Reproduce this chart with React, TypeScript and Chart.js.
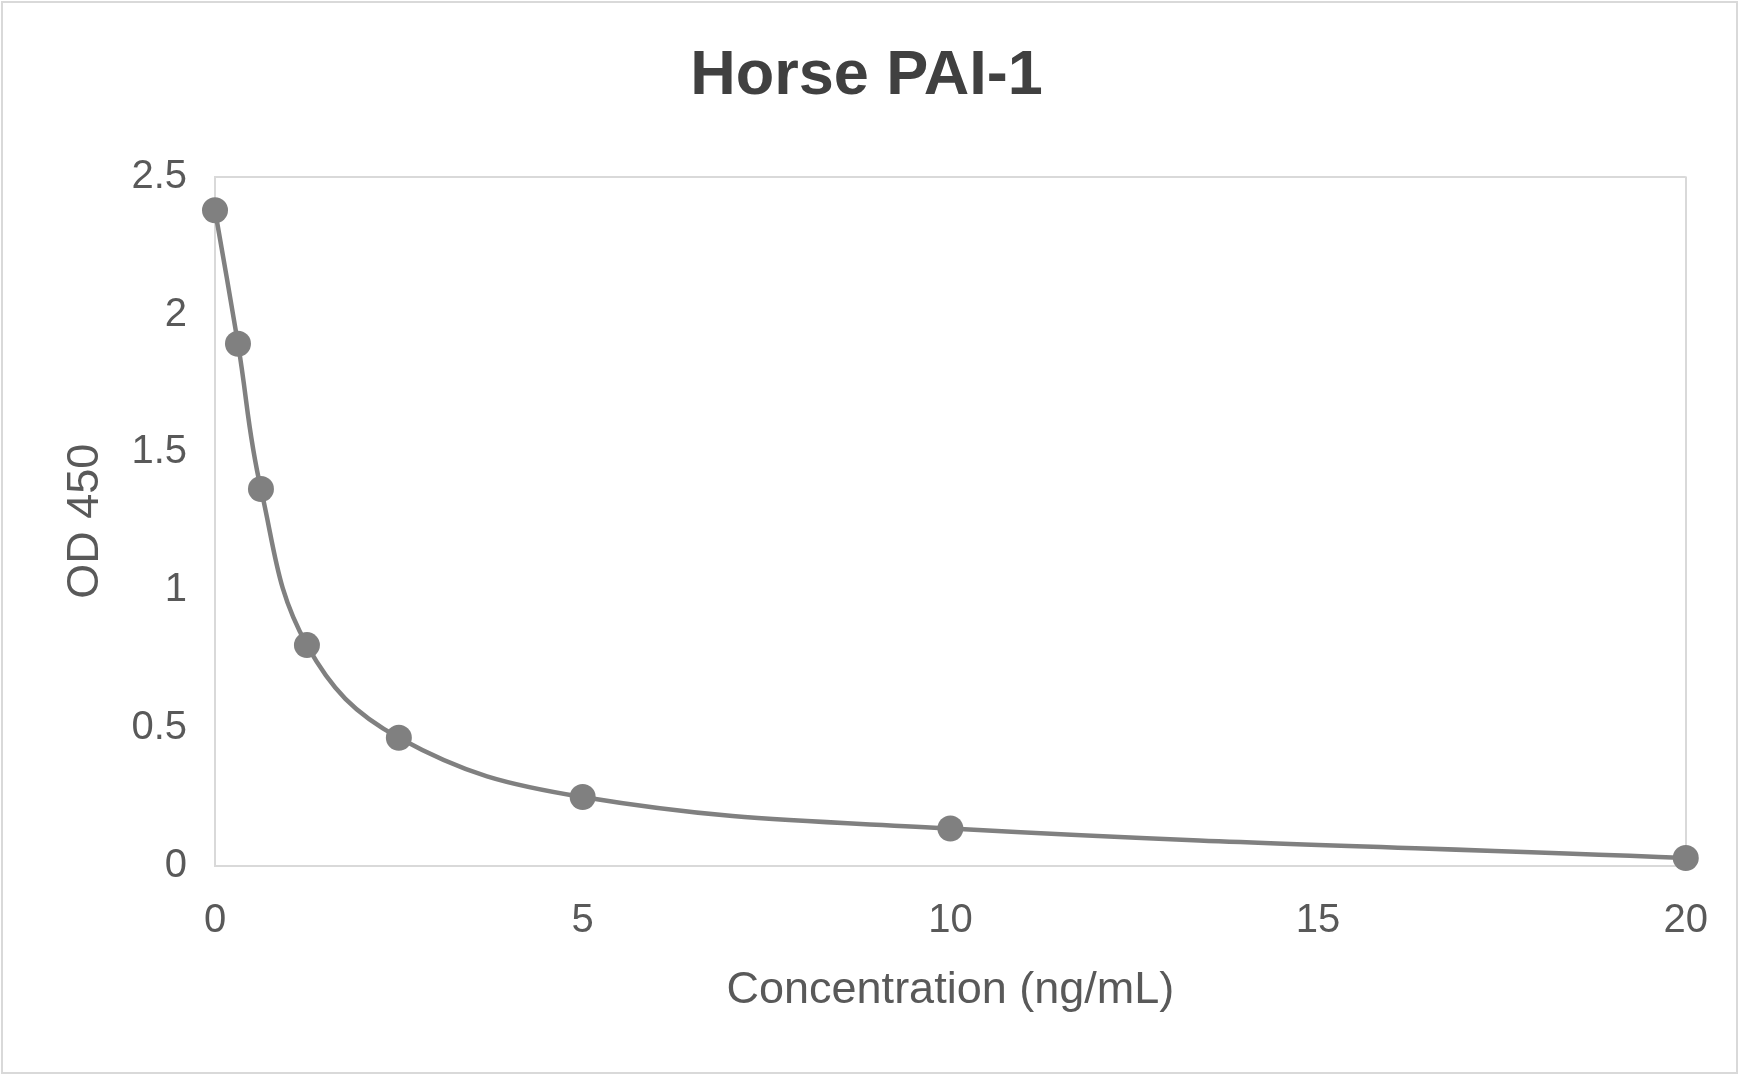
import React, { useEffect, useRef } from "react";
import { Chart, registerables } from "chart.js";

Chart.register(...registerables);

const concentrations = [0, 0.3125, 0.625, 1.25, 2.5, 5, 10, 20];
const odValues = [2.378, 1.894, 1.367, 0.801, 0.465, 0.25, 0.136, 0.029];
const chartTitle = "Horse PAI-1";
const xTitle = "Concentration (ng/mL)";
const yTitle = "OD 450";

const W = 1739;
const H = 1075;
const FONT = "'Liberation Sans', Arial, sans-serif";

const outerBorder = {
  id: "outerBorder",
  afterDraw(chart: any) {
    const { ctx } = chart;
    ctx.save();
    ctx.strokeStyle = "#d9d9d9";
    ctx.lineWidth = 2;
    ctx.strokeRect(2, 2, chart.width - 4, chart.height - 4);
    ctx.restore();
  },
  beforeDraw(chart: any) {
    const { ctx } = chart;
    ctx.save();
    ctx.fillStyle = "#ffffff";
    ctx.fillRect(0, 0, chart.width, chart.height);
    ctx.restore();
  },
};

export default function App() {
  const ref = useRef<HTMLCanvasElement | null>(null);

  useEffect(() => {
    if (!ref.current) return;
    const points = concentrations.map((x, i) => ({ x, y: odValues[i] }));
    const chart = new Chart(ref.current, {
      type: "scatter",
      data: {
        datasets: [
          {
            data: points,
            showLine: true,
            borderColor: "#808080",
            backgroundColor: "#808080",
            borderWidth: 4.5,
            pointRadius: 13,
            pointHoverRadius: 13,
            pointBorderWidth: 0,
            pointBackgroundColor: "#808080",
            tension: 0.4,
            clip: false,
          } as any,
        ],
      },
      options: {
        animation: false,
        responsive: false,
        devicePixelRatio: 1,
        events: [],
        layout: { padding: { left: 46, right: 52, top: 0, bottom: 0 } },
        plugins: {
          legend: { display: false },
          tooltip: { enabled: false },
          title: {
            display: true,
            text: chartTitle,
            color: "#404040",
            font: { family: FONT, size: 63, weight: "bold", lineHeight: 1.2 },
            padding: { top: 39, bottom: 62 },
          },
        },
        scales: {
          x: {
            type: "linear",
            min: 0,
            max: 20,
            afterFit(scale: any) {
              scale.height = 209;
            },
            ticks: {
              stepSize: 5,
              color: "#595959",
              padding: 31,
              font: { family: FONT, size: 40, lineHeight: 1.2 },
              maxRotation: 0,
            },
            grid: {
              drawTicks: false,
              lineWidth: 2,
              color: (c: any) => (c.tick && c.tick.value === 20 ? "#d9d9d9" : "rgba(0,0,0,0)"),
            },
            border: { display: true, color: "#d9d9d9", width: 2 },
            title: {
              display: true,
              text: xTitle,
              color: "#595959",
              font: { family: FONT, size: 45, lineHeight: 1.2 },
              padding: { top: 0, bottom: 57 },
            },
          },
          y: {
            type: "linear",
            min: 0,
            max: 2.5,
            afterFit(scale: any) {
              scale.width = 169;
            },
            ticks: {
              stepSize: 0.5,
              color: "#595959",
              padding: 28,
              font: { family: FONT, size: 40, lineHeight: 1.2 },
              callback: (v: any) => String(Number(v)),
            },
            grid: {
              drawTicks: false,
              lineWidth: 2,
              color: (c: any) => (c.tick && c.tick.value === 2.5 ? "#d9d9d9" : "rgba(0,0,0,0)"),
            },
            border: { display: true, color: "#d9d9d9", width: 2 },
            title: {
              display: true,
              text: yTitle,
              color: "#595959",
              font: { family: FONT, size: 45, lineHeight: 1.2 },
              padding: { top: 13, bottom: 0 },
            },
          },
        },
      } as any,
      plugins: [outerBorder],
    });
    return () => chart.destroy();
  }, []);

  return (
    <div style={{ position: "fixed", left: 0, top: 0, width: W, height: H, background: "#fff" }}>
      <canvas ref={ref} width={W} height={H} style={{ width: W, height: H, display: "block" }} />
    </div>
  );
}
